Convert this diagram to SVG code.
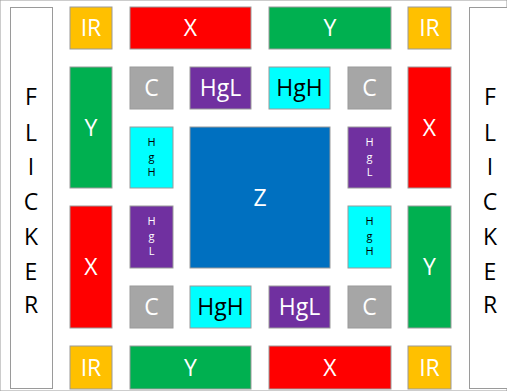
<svg xmlns="http://www.w3.org/2000/svg" width="507" height="391" viewBox="0 0 507 391">
<style>
rect{stroke:#9a9a9a;stroke-width:1}
text{font-family:"Open Sans","Liberation Sans",sans-serif;text-anchor:middle}
.w{fill:#fff;font-size:23px}
.b{fill:#000;font-size:23px}
.s{font-size:11px}
.sw{fill:#fff}
.sb{fill:#000}
.ir{fill:#FFC000}.x{fill:#FF0000}.y{fill:#00B050}.c{fill:#A6A6A6}.hl{fill:#7030A0}.hh{fill:#00FFFF}.z{fill:#0070C0}.f{fill:#fff}
</style>
<rect width="507" height="391" fill="#fff" stroke="none"/>
<g id="flicker-left"><rect class="f" x="10.5" y="7.5" width="42" height="381"/>
<text class="b" x="31" y="105">F</text><text class="b" x="31" y="141">L</text><text class="b" x="31" y="175">I</text><text class="b" x="31" y="210">C</text><text class="b" x="31" y="245">K</text><text class="b" x="31" y="280">E</text><text class="b" x="31" y="313">R</text></g>
<g id="flicker-right"><rect class="f" x="469.5" y="7.5" width="42" height="381"/>
<text class="b" x="490" y="105">F</text><text class="b" x="490" y="141">L</text><text class="b" x="490" y="175">I</text><text class="b" x="490" y="210">C</text><text class="b" x="490" y="245">K</text><text class="b" x="490" y="280">E</text><text class="b" x="490" y="313">R</text></g>
<g id="ir-tl"><rect class="ir" x="70" y="7" width="42" height="42"/><text class="w" x="91" y="36">IR</text></g>
<g id="x-top"><rect class="x" x="130" y="7" width="121" height="42"/><text class="w" x="190.5" y="36">X</text></g>
<g id="y-top"><rect class="y" x="269" y="7" width="122" height="42"/><text class="w" x="330" y="36">Y</text></g>
<g id="ir-tr"><rect class="ir" x="408" y="7" width="43" height="42"/><text class="w" x="429.5" y="36">IR</text></g>
<g id="y-left"><rect class="y" x="70" y="67" width="42" height="121"/><text class="w" x="91" y="136">Y</text></g>
<g id="c-tl"><rect class="c" x="130" y="67" width="43" height="42"/><text class="w" x="151.5" y="96">C</text></g>
<g id="hgl-top"><rect class="hl" x="190" y="67" width="61" height="42"/><text class="w" x="220.5" y="96">HgL</text></g>
<g id="hgh-top"><rect class="hh" x="269" y="67" width="61" height="42"/><text class="b" x="299.5" y="96">HgH</text></g>
<g id="c-tr"><rect class="c" x="348" y="67" width="43" height="42"/><text class="w" x="369.5" y="96">C</text></g>
<g id="x-right"><rect class="x" x="408" y="67" width="43" height="121"/><text class="w" x="429.5" y="136">X</text></g>
<g id="hgh-left"><rect class="hh" x="130" y="127" width="43" height="61"/><text class="s sb" x="151.5" y="146">H</text><text class="s sb" x="151.5" y="161">g</text><text class="s sb" x="151.5" y="176">H</text></g>
<g id="z"><rect class="z" x="190" y="127" width="140" height="141"/><text class="w" x="260" y="206">Z</text></g>
<g id="hgl-right"><rect class="hl" x="348" y="127" width="43" height="61"/><text class="s sw" x="369.5" y="146">H</text><text class="s sw" x="369.5" y="161">g</text><text class="s sw" x="369.5" y="176">L</text></g>
<g id="x-left"><rect class="x" x="70" y="206" width="42" height="122"/><text class="w" x="91" y="275">X</text></g>
<g id="hgl-left"><rect class="hl" x="130" y="206" width="43" height="62"/><text class="s sw" x="151.5" y="225">H</text><text class="s sw" x="151.5" y="240">g</text><text class="s sw" x="151.5" y="255">L</text></g>
<g id="hgh-right"><rect class="hh" x="348" y="206" width="43" height="62"/><text class="s sb" x="369.5" y="225">H</text><text class="s sb" x="369.5" y="240">g</text><text class="s sb" x="369.5" y="255">H</text></g>
<g id="y-right"><rect class="y" x="408" y="206" width="43" height="122"/><text class="w" x="429.5" y="275">Y</text></g>
<g id="c-bl"><rect class="c" x="130" y="286" width="43" height="42"/><text class="w" x="151.5" y="315">C</text></g>
<g id="hgh-bottom"><rect class="hh" x="190" y="286" width="61" height="42"/><text class="b" x="220.5" y="315">HgH</text></g>
<g id="hgl-bottom"><rect class="hl" x="269" y="286" width="61" height="42"/><text class="w" x="299.5" y="315">HgL</text></g>
<g id="c-br"><rect class="c" x="348" y="286" width="43" height="42"/><text class="w" x="369.5" y="315">C</text></g>
<g id="ir-bl"><rect class="ir" x="70" y="346" width="42" height="43"/><text class="w" x="91" y="376">IR</text></g>
<g id="y-bottom"><rect class="y" x="130" y="346" width="121" height="43"/><text class="w" x="190.5" y="376">Y</text></g>
<g id="x-bottom"><rect class="x" x="269" y="346" width="122" height="43"/><text class="w" x="330" y="376">X</text></g>
<g id="ir-br"><rect class="ir" x="408" y="346" width="43" height="43"/><text class="w" x="429.5" y="376">IR</text></g>
<g id="connectors"></g>
</svg>
